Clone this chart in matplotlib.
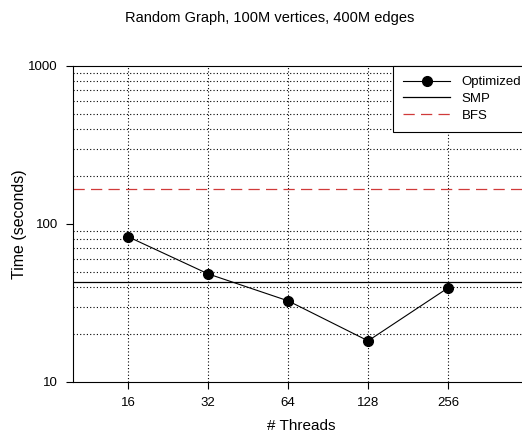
import numpy as np
import matplotlib.pyplot as plt
from matplotlib.ticker import FixedLocator, NullFormatter

plt.rcParams['font.family'] = ['Liberation Sans', 'DejaVu Sans']

# datos
hilos = [16, 32, 64, 128, 256]
optimizado = [83, 48.3, 32.6, 18.2, 39.4]
smp = 43
bfs = 167

fig = plt.figure(figsize=(5.22, 4.4), dpi=100)
ax = fig.add_axes([0.14, 0.132, 0.8755, 0.718])

ax.set_xscale('log', base=2)
ax.set_yscale('log')
ax.set_xlim(9.93, 521)
ax.set_ylim(10, 1000)

# rejilla punteada
for v in [20, 30, 40, 50, 60, 70, 80, 90, 200, 300, 400, 500, 600, 700, 800, 900]:
    ax.axhline(v, color='black', lw=0.8, ls=(0, (1, 2)), zorder=0)
for h in hilos:
    ax.axvline(h, color='black', lw=0.8, ls=(0, (1, 2)), zorder=0)

ax.plot(hilos, optimizado, color='black', lw=0.8, marker='o', ms=7, label='Optimized', zorder=3)
ax.axhline(smp, color='black', lw=0.9, label='SMP', zorder=2)
ax.axhline(bfs, color='#d03a3a', lw=0.9, ls=(0, (9, 5)), label='BFS', zorder=2)

ax.xaxis.set_major_locator(FixedLocator(hilos))
ax.set_xticklabels([str(h) for h in hilos])
ax.xaxis.set_minor_locator(FixedLocator([]))
ax.yaxis.set_major_locator(FixedLocator([10, 100, 1000]))
ax.set_yticklabels(['10', '100', '1000'])
ax.yaxis.set_minor_locator(FixedLocator([]))
ax.yaxis.set_minor_formatter(NullFormatter())
ax.tick_params(labelsize=9.5, length=5, width=0.8, pad=6)

for s in ax.spines.values():
    s.set_linewidth(0.8)

ax.set_xlabel('# Threads', fontsize=11, labelpad=7)
ax.set_ylabel('Time (seconds)', fontsize=11.5, labelpad=1)
fig.suptitle('Random Graph, 100M vertices, 400M edges', fontsize=10.5, x=0.517, y=0.975)

leg = ax.legend(loc='upper left', bbox_to_anchor=(0.700, 1.0), fontsize=9.5, frameon=True,
                fancybox=False, edgecolor='black', framealpha=1, borderaxespad=0,
                handlelength=3.6, borderpad=0.75, labelspacing=0.35, handletextpad=0.85)
leg.get_frame().set_linewidth(0.8)

fig.savefig('out.png', dpi=100)
